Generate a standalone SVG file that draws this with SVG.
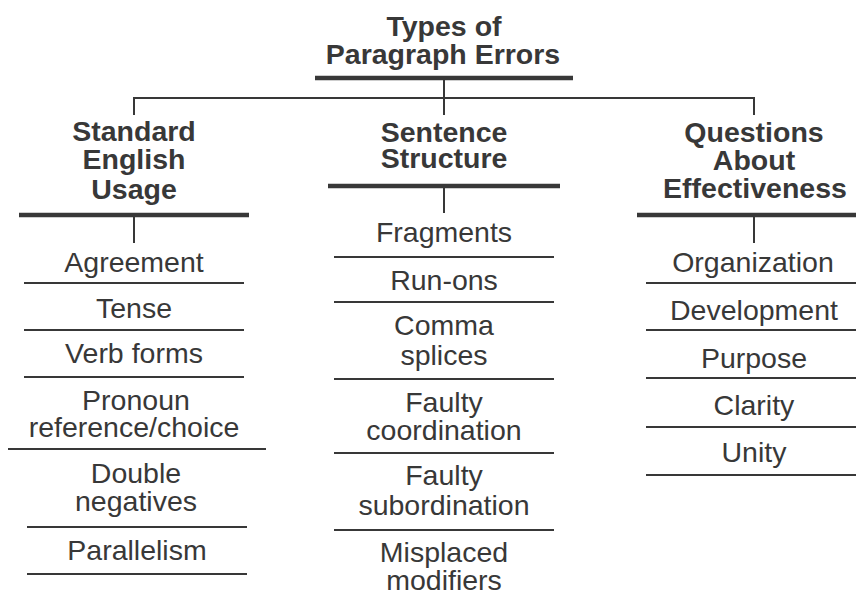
<svg xmlns="http://www.w3.org/2000/svg" width="856" height="597" viewBox="0 0 856 597">
<style>
text{font-family:"Liberation Sans",Arial,Helvetica,sans-serif;font-size:28.5px;fill:#383838;text-anchor:middle}
.h{font-weight:bold}
.thick{stroke:#383838;stroke-width:4.5;fill:none}
.thin{stroke:#383838;stroke-width:2.2;fill:none}
.conn{stroke:#383838;stroke-width:2;fill:none}
</style>
<rect width="856" height="597" fill="#fff"/>
<g id="connectors">
<line class="conn" x1="444" y1="80" x2="444" y2="115"/>
<polyline class="conn" points="134,115 134,98 754,98 754,115"/>
<line class="conn" x1="134" y1="217" x2="134" y2="243"/>
<line class="conn" x1="444" y1="188" x2="444" y2="213"/>
<line class="conn" x1="754" y1="217" x2="754" y2="243"/>
</g>
<g id="root">
<text class="h" x="444" y="36">Types of</text>
<text class="h" x="443" y="64">Paragraph Errors</text>
<line class="thick" x1="315" y1="78" x2="573" y2="78"/>
</g>
<g id="standard">
<text class="h" x="134" y="141">Standard</text>
<text class="h" x="134" y="169">English</text>
<text class="h" x="134" y="199">Usage</text>
<line class="thick" x1="19" y1="215" x2="249" y2="215"/>
</g>
<g id="agreement"><text x="134" y="272">Agreement</text><line class="thin" x1="24" y1="283" x2="244" y2="283"/></g>
<g id="tense"><text x="134" y="318">Tense</text><line class="thin" x1="24" y1="330" x2="244" y2="330"/></g>
<g id="verb"><text x="134" y="363">Verb forms</text><line class="thin" x1="24" y1="377" x2="244" y2="377"/></g>
<g id="pronoun"><text x="136" y="410">Pronoun</text><text x="134" y="437">reference/choice</text><line class="thin" x1="8" y1="449" x2="266" y2="449"/></g>
<g id="double"><text x="136" y="483">Double</text><text x="136" y="511">negatives</text><line class="thin" x1="27" y1="527" x2="247" y2="527"/></g>
<g id="parallelism"><text x="137" y="560">Parallelism</text><line class="thin" x1="27" y1="574" x2="247" y2="574"/></g>
<g id="sentence">
<text class="h" x="444" y="142">Sentence</text>
<text class="h" x="444" y="168">Structure</text>
<line class="thick" x1="328" y1="186" x2="560" y2="186"/>
</g>
<g id="fragments"><text x="444" y="242">Fragments</text><line class="thin" x1="334" y1="257" x2="554" y2="257"/></g>
<g id="runons"><text x="444" y="290">Run-ons</text><line class="thin" x1="334" y1="302" x2="554" y2="302"/></g>
<g id="comma"><text x="444" y="335">Comma</text><text x="444" y="365">splices</text><line class="thin" x1="334" y1="379" x2="554" y2="379"/></g>
<g id="coordination"><text x="444" y="412">Faulty</text><text x="444" y="440">coordination</text><line class="thin" x1="334" y1="453" x2="554" y2="453"/></g>
<g id="subordination"><text x="444" y="485">Faulty</text><text x="444" y="515">subordination</text><line class="thin" x1="334" y1="530" x2="554" y2="530"/></g>
<g id="misplaced"><text x="444" y="562">Misplaced</text><text x="444" y="590">modifiers</text></g>
<g id="questions">
<text class="h" x="754" y="142">Questions</text>
<text class="h" x="754" y="170">About</text>
<text class="h" x="755" y="198">Effectiveness</text>
<line class="thick" x1="637" y1="215" x2="856" y2="215"/>
</g>
<g id="organization"><text x="753" y="272">Organization</text><line class="thin" x1="646" y1="283" x2="856" y2="283"/></g>
<g id="development"><text x="754" y="320">Development</text><line class="thin" x1="646" y1="330" x2="856" y2="330"/></g>
<g id="purpose"><text x="754" y="368">Purpose</text><line class="thin" x1="646" y1="378" x2="856" y2="378"/></g>
<g id="clarity"><text x="754" y="415">Clarity</text><line class="thin" x1="646" y1="427" x2="856" y2="427"/></g>
<g id="unity"><text x="754" y="462">Unity</text><line class="thin" x1="646" y1="475" x2="856" y2="475"/></g>
</svg>
